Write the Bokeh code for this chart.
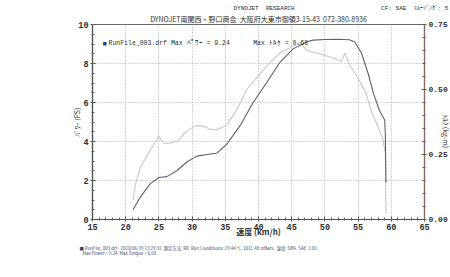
import math
from bokeh.plotting import figure
from bokeh.models import Range1d, LinearAxis, Label, FixedTicker, Title
from bokeh.embed import file_html
from bokeh.resources import INLINE

# ---- data ----
speed_power = [21.1, 22.2, 23.7, 25.0, 26.2, 27.7, 29.2, 30.7, 32.5, 33.7, 35.2, 37.2, 39.2,
               41.2, 43.2, 45.2, 47.2, 48.2, 50.0, 52.0, 53.7, 54.5, 55.5, 56.5, 57.3, 58.2,
               59.0, 59.1, 59.2]
power_ps = [0.5, 1.15, 1.84, 2.15, 2.2, 2.5, 2.95, 3.25, 3.35, 3.4, 3.85, 4.8, 6.0,
            7.0, 8.05, 8.75, 9.1, 9.2, 9.23, 9.24, 9.22, 9.1, 8.54, 7.5, 6.48, 5.6,
            5.1, 4.4, 1.9]
speed_torque = [21.1, 21.5, 22.2, 23.7, 25.0, 25.7, 26.7, 28.0, 29.0, 30.5, 31.7, 32.7, 33.7,
                35.2, 36.7, 38.2, 39.7, 41.2, 43.2, 45.2, 46.2, 47.2, 47.7, 49.7, 51.7, 52.5,
                53.0, 53.7, 55.0, 56.2, 57.0, 58.0, 58.7, 59.1, 59.2]
torque_kgm = [0.073, 0.138, 0.2, 0.267, 0.32, 0.293, 0.293, 0.305, 0.337, 0.36, 0.36, 0.347, 0.344,
              0.363, 0.421, 0.499, 0.544, 0.589, 0.64, 0.666, 0.68, 0.653, 0.647, 0.634, 0.617, 0.608,
              0.64, 0.595, 0.544, 0.486, 0.415, 0.357, 0.312, 0.255, 0.022]

x_ticks = [15, 20, 25, 30, 35, 40, 45, 50, 55, 60, 65]
left_ticks = [0, 2, 4, 6, 8, 10]
right_ticks = [0.0, 0.25, 0.5, 0.75]
right_tick_labels = {0.0: "0.00", 0.25: "0.25", 0.5: "0.50", 0.75: "0.75"}

NB = "\u00a0"
W, H = 450, 277
MONO = "Liberation Mono"
CJK = "Noto Sans CJK JP"

p = figure(width=W, height=H, output_backend="svg", toolbar_location=None,
           x_range=Range1d(15, 65), y_range=Range1d(0, 10),
           min_border_left=92, min_border_right=25, min_border_top=24, min_border_bottom=58)
p.extra_y_ranges = {"tq": Range1d(0, 0.75)}
p.background_fill_color = "white"
p.border_fill_color = "white"
p.outline_line_color = "#6a6a6a"
p.outline_line_width = 1.2

# ---- titles: p.title is the outer row, the added Title sits next to the frame ----
p.title.text = ("DYNOJET" + NB * 2 + "RESEARCH" + NB * 24 + "CF:" + NB + "SAE" + NB * 2
                + "ｽﾑｰｼﾞﾝｸﾞ:" + NB + "5")
p.title.align = "left"
p.title.offset = 141
p.title.standoff = 0
p.title.text_font = MONO
p.title.text_font_size = "6px"
p.title.text_font_style = "normal"
p.title.text_color = "#303030"

addr = ("DYNOJET南関西・野口商会" + NB * 2 + "大阪府大東市御領3-15-43" + NB * 2 + "072-380-8936")
p.add_layout(Title(text=addr, align="center", offset=1, standoff=1, text_font=CJK,
                   text_font_size="7px", text_font_style="normal", text_color="#303030"), "above")

# ---- axes ----
xa = p.xaxis[0]
xa.ticker = FixedTicker(ticks=x_ticks, minor_ticks=list(range(15, 66)))
ya = p.yaxis[0]
ya.ticker = FixedTicker(ticks=left_ticks, minor_ticks=[i * 0.5 for i in range(0, 21)])
ra = LinearAxis(y_range_name="tq",
                ticker=FixedTicker(ticks=right_ticks, minor_ticks=[i * 0.05 for i in range(0, 16)]))
ra.major_label_overrides = right_tick_labels
p.add_layout(ra, "right")

for ax in (xa, ya, ra):
    ax.axis_line_color = "#505050"
    ax.axis_line_width = 1.2
    ax.major_tick_line_color = "#505050"
    ax.minor_tick_line_color = "#606060"
    ax.major_tick_in = 3
    ax.major_tick_out = 2
    ax.minor_tick_in = 2
    ax.minor_tick_out = 1
    ax.major_label_text_font = MONO
    ax.major_label_text_font_style = "bold"
    ax.major_label_text_font_size = "8.5px"
    ax.major_label_text_color = "#303030"
    ax.major_label_standoff = 2
    ax.axis_label_text_font = CJK
    ax.axis_label_text_font_style = "normal"
    ax.axis_label_text_color = "#303030"
ra.axis_line_color = "#8a6a64"
ra.major_label_text_font_size = "8px"

xa.axis_label = "速度 (km/h)"
xa.axis_label_text_font_size = "8px"
xa.axis_label_text_font_style = "bold"
xa.axis_label_standoff = -7
ya.axis_label = "ﾊﾟﾜｰ (PS)"
ya.axis_label_text_font_size = "7px"
ya.axis_label_standoff = -7

# right-hand axis title: a Label kept in the (roomy) left panel so that it is not
# clipped to the frame
p.add_layout(Label(x=386, y=88, x_units="screen", y_units="screen", text="ﾄﾙｸ (kg-m)",
                   text_font=CJK, text_font_size="7px", text_color="#303030",
                   text_align="center", text_baseline="middle", angle=-math.pi / 2), "left")

# ---- grid ----
p.xgrid.ticker = FixedTicker(ticks=[20, 25, 30, 35, 40, 45, 50, 55, 60])
p.ygrid.ticker = FixedTicker(ticks=[2, 4, 6, 8])
for g in (p.xgrid[0], p.ygrid[0]):
    g.grid_line_color = "#a8a8a8"
    g.grid_line_dash = "1 2"
    g.grid_line_width = 1

# ---- curves ----
p.line(speed_torque, torque_kgm, y_range_name="tq", line_color="#c4c8cc", line_width=1.1)
p.line(speed_power, power_ps, line_color="#5c6274", line_width=1.1)

# ---- in-plot legend text ----
p.add_layout(Label(x=10, y=176, x_units="screen", y_units="screen", text="■",
                   text_font_size="7px", text_color="#2a3a8c", text_baseline="middle"))
p.add_layout(Label(x=16, y=176, x_units="screen", y_units="screen",
                   text="RunFile_003.drf" + NB + "Max" + NB + "ﾊﾟﾜｰ" + NB + "=" + NB + "9.24" + NB * 6
                        + "Max" + NB + "ﾄﾙｸ" + NB + "=" + NB + "0.68",
                   text_font=MONO, text_font_size="6.5px", text_color="#303030", text_baseline="middle"))

# ---- footer (below the x axis) ----
foot = ("■" + NB + "RunFile_003.drf" + NB + "-" + NB + "2010/06/19" + NB + "13:29:32" + NB * 2 + "測定方法:" + NB + "RD"
        + NB * 2 + "Run" + NB + "Conditions:" + NB + "29.44" + NB + "°C," + NB + "1011.48" + NB + "mBars," + NB * 2
        + "湿度:" + NB + "58%" + NB * 2 + "SAE:" + NB + "1.01" + "\n"
        + NB * 3 + "Max" + NB + "Power" + NB + "=" + NB + "9.24" + NB * 2 + "Max" + NB + "Torque" + NB + "=" + NB + "0.68")
p.add_layout(Title(text=foot, align="left", offset=-13, standoff=6, text_font=CJK,
                   text_font_size="4.4px", text_font_style="normal", text_color="#3a4466",
                   text_line_height=0.95), "below")

open("out.html", "w").write(file_html(p, INLINE))
